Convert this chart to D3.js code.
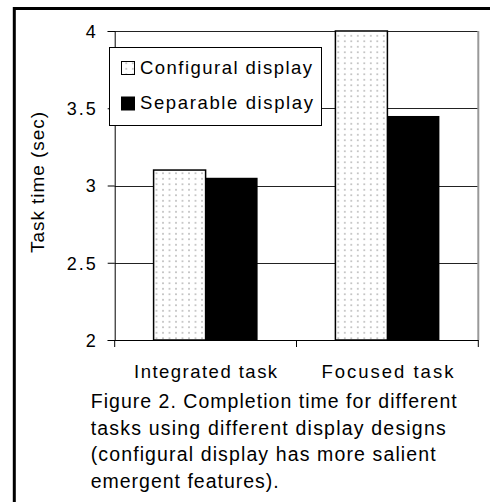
<!DOCTYPE html>
<html>
<head>
<meta charset="utf-8">
<script src="https://cdn.jsdelivr.net/npm/d3@7"></script>
<style>
  html, body { margin: 0; padding: 0; background: #fff; }
  svg { display: block; }
  text { font-family: "Liberation Sans", Arial, sans-serif; fill: #000; }
</style>
</head>
<body>
<div id="chart"></div>
<script>
// data
const categories = ['Integrated task', 'Focused task'];
const seriesNames = ['Configural display', 'Separable display'];
const configuralValues = [3.1, 4.0];
const separableValues = [3.05, 3.45];
const yTicks = [2, 2.5, 3, 3.5, 4];
const captionLines = [
  'Figure 2. Completion time for different',
  'tasks using different display designs',
  '(configural display has more salient',
  'emergent features).'
];

const width = 490;
const height = 502;
const plot = {left: 114.7, right: 478.3, top: 31, bottom: 340};

const svg = d3.select('#chart')
  .append('svg')
  .attr('width', width)
  .attr('height', height);

// dotted fill used for the configural bars
const defs = svg.append('defs');
const pat = defs.append('pattern')
  .attr('id', 'dots')
  .attr('patternUnits', 'userSpaceOnUse')
  .attr('width', 6.5)
  .attr('height', 5.5);
pat.append('rect').attr('width', 6.5).attr('height', 5.5).attr('fill', '#fff');
pat.append('rect').attr('x', 2).attr('y', 2).attr('width', 1.6).attr('height', 1.6).attr('fill', '#b4b4b4');

const fills = ['url(#dots)', '#000'];

// outer frame: top and left edges only
svg.append('path')
  .attr('d', `M14.3,${height} V8.5 H${width}`)
  .attr('fill', 'none')
  .attr('stroke', '#000')
  .attr('stroke-width', 3);

const y = d3.scaleLinear()
  .domain([2, 4])
  .range([plot.bottom, plot.top]);

const x0 = d3.scaleBand()
  .domain(categories)
  .range([plot.left, plot.right])
  .padding(0);

const x1 = d3.scaleBand()
  .domain(seriesNames)
  .range([0, x0.bandwidth()])
  .paddingInner(0)
  .paddingOuter(0.748);

// gridlines
svg.append('g')
  .selectAll('line')
  .data(yTicks.filter((d)=> d > 2 && d < 4))
  .enter()
  .append('line')
  .attr('x1', plot.left)
  .attr('x2', plot.right)
  .attr('y1', (d)=> Math.round(y(d)) + 0.5)
  .attr('y2', (d)=> Math.round(y(d)) + 0.5)
  .attr('stroke', '#222')
  .attr('stroke-width', 1);

// plot top and right border
svg.append('line')
  .attr('x1', plot.left).attr('x2', plot.right)
  .attr('y1', Math.round(y(4)) + 0.5).attr('y2', Math.round(y(4)) + 0.5)
  .attr('stroke', '#222');
svg.append('line')
  .attr('x1', plot.right).attr('x2', plot.right)
  .attr('y1', y(4)).attr('y2', y(2))
  .attr('stroke', '#999')
  .attr('stroke-width', 2);

// bars
const rows = categories.map((c, i)=> ({
  cat: c,
  vals: [
    {name: seriesNames[0], value: configuralValues[i], k: 0},
    {name: seriesNames[1], value: separableValues[i], k: 1}
  ]
}));

const groups = svg.append('g')
  .selectAll('g')
  .data(rows)
  .enter()
  .append('g')
  .attr('transform', (d)=> `translate(${x0(d.cat)},0)`);

groups.selectAll('rect')
  .data((d)=> d.vals)
  .enter()
  .append('rect')
  .attr('x', (d)=> x1(d.name))
  .attr('y', (d)=> y(d.value))
  .attr('width', x1.bandwidth())
  .attr('height', (d)=> y(2) - y(d.value))
  .attr('fill', (d)=> fills[d.k])
  .attr('stroke', '#000')
  .attr('stroke-width', (d)=> d.k === 0 ? 1.5 : 0);

// y axis
const yAxis = svg.append('g')
  .attr('transform', `translate(${plot.left},0)`)
  .call(d3.axisLeft(y).tickValues(yTicks).tickSize(7).tickPadding(10).tickFormat((d)=> String(d)));
yAxis.select('.domain').attr('stroke', '#000');
yAxis.selectAll('.tick line').attr('stroke', '#000');
yAxis.selectAll('text')
  .style('font-family', '"Liberation Sans", Arial, sans-serif')
  .style('font-size', '18px')
  .style('letter-spacing', '2px')
  .attr('dy', '0.36em');

// x axis: ticks at the category boundaries
svg.append('line')
  .attr('x1', plot.left).attr('x2', plot.right)
  .attr('y1', y(2) + 0.5).attr('y2', y(2) + 0.5)
  .attr('stroke', '#000');
const xBounds = categories.map((c)=> x0(c)).concat([x0(categories[categories.length - 1]) + x0.bandwidth()]);
svg.append('g')
  .selectAll('line')
  .data(xBounds)
  .enter()
  .append('line')
  .attr('x1', (d)=> d).attr('x2', (d)=> d)
  .attr('y1', y(2)).attr('y2', y(2) + 7)
  .attr('stroke', '#000');

const catWidths = [143, 132];
svg.append('g')
  .selectAll('text')
  .data(categories)
  .enter()
  .append('text')
  .attr('x', (d)=> x0(d) + x0.bandwidth() / 2)
  .attr('y', 377.5)
  .attr('text-anchor', 'middle')
  .attr('textLength', (d, i)=> catWidths[i])
  .attr('lengthAdjust', 'spacing')
  .style('font-size', '18.5px')
  .text((d)=> d);

// y title
svg.append('text')
  .attr('transform', 'translate(44,182.5) rotate(-90)')
  .attr('text-anchor', 'middle')
  .attr('textLength', 141)
  .attr('lengthAdjust', 'spacing')
  .style('font-size', '19px')
  .text('Task time (sec)');

// legend
const legend = svg.append('g');
legend.append('rect')
  .attr('x', 109.5).attr('y', 47.5)
  .attr('width', 212).attr('height', 78)
  .attr('fill', '#fff')
  .attr('stroke', '#000');
const legWidths = [172, 173];
const li = legend.selectAll('g')
  .data(seriesNames)
  .enter()
  .append('g')
  .attr('transform', (d, i)=> `translate(0,${i * 35.5})`);
li.append('rect')
  .attr('x', 121.5).attr('y', 61.5)
  .attr('width', 13).attr('height', 13)
  .attr('fill', (d, i)=> fills[i])
  .attr('stroke', '#000');
li.append('text')
  .attr('x', 140)
  .attr('y', 73.5)
  .attr('textLength', (d, i)=> legWidths[i])
  .attr('lengthAdjust', 'spacing')
  .style('font-size', '18.5px')
  .text((d)=> d);

// caption
const capWidths = [366, 355, 345, 188];
svg.append('g')
  .selectAll('text')
  .data(captionLines)
  .enter()
  .append('text')
  .attr('x', 90.7)
  .attr('y', (d, i)=> 408.3 + i * 26.5)
  .attr('textLength', (d, i)=> capWidths[i])
  .attr('lengthAdjust', 'spacing')
  .style('font-size', '19.5px')
  .text((d)=> d);
</script>
</body>
</html>
